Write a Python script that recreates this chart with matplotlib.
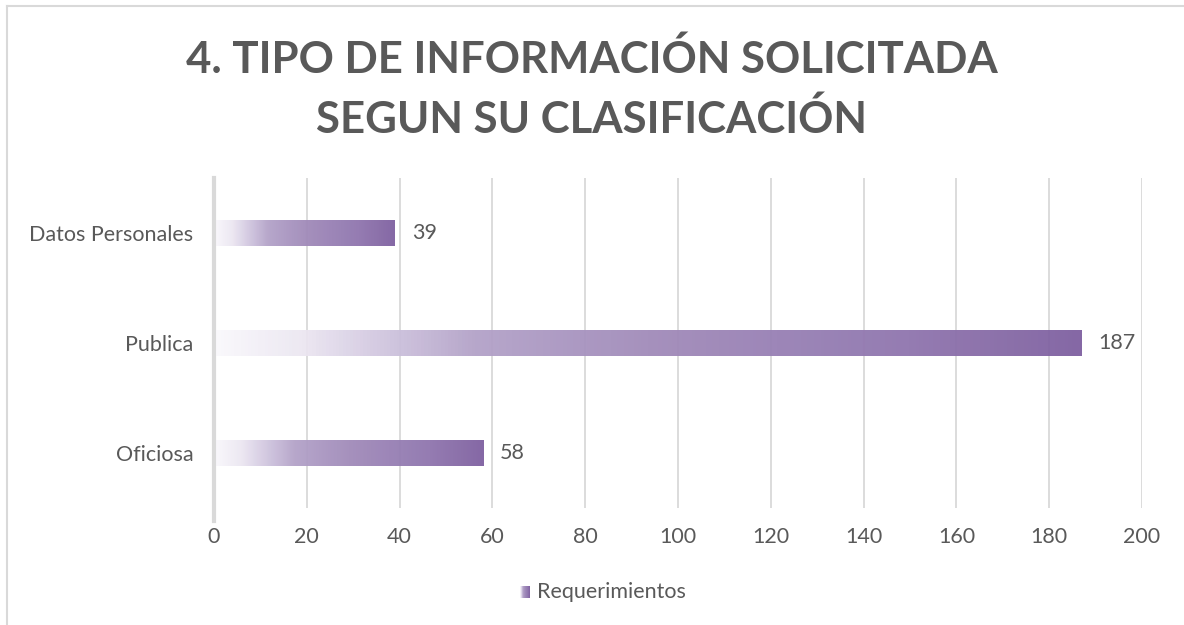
import numpy as np
import matplotlib
matplotlib.use("Agg")
import matplotlib.pyplot as plt
from matplotlib.colors import LinearSegmentedColormap
from matplotlib.lines import Line2D

# data
categories = ["Oficiosa", "Publica", "Datos Personales"]
values = [58, 187, 39]
series_name = "Requerimientos"
title = "4. TIPO DE INFORMACIÓN SOLICITADA\nSEGUN SU CLASIFICACIÓN"
x_ticks = [0, 20, 40, 60, 80, 100, 120, 140, 160, 180, 200]

text_color = "#595959"
grid_color = "#D9D9D9"
font = "Lato"
fs = 15.5

# white -> purple gradient like the Excel fill
grad = LinearSegmentedColormap.from_list("grad", [
    (0.0, "#FAF9FC"), (0.1, "#ECE7F2"), (0.2, "#CFC4DE"), (0.3, "#B3A2C8"),
    (0.5, "#A18BBA"), (0.8, "#8F75AE"), (1.0, "#7F60A0")])
ramp = np.linspace(0, 1, 256).reshape(1, -1)

fig = plt.figure(figsize=(11.84, 6.25), dpi=100)
ax = fig.add_axes([214 / 1184, 1 - 508 / 625, (1142 - 214) / 1184, 330 / 625])

bar_h = 0.236
for i, v in enumerate(values):
    ax.imshow(ramp, cmap=grad, aspect="auto", alpha=0.95,
              extent=[0, v, i - bar_h / 2, i + bar_h / 2], zorder=2)
    ax.text(v + 3.6, i, str(v), va="center", ha="left", fontsize=fs,
            color=text_color, family=font)

ax.set_xlim(0, 200)
ax.set_ylim(-0.5, len(categories) - 0.5)
ax.set_xticks(x_ticks)
ax.set_yticks(range(len(categories)))
ax.set_yticklabels(categories)
ax.grid(axis="x", color=grid_color, linewidth=1.3, zorder=0)
ax.set_axisbelow(True)
for s in ["top", "right", "bottom"]:
    ax.spines[s].set_visible(False)
ax.spines["left"].set_color(grid_color)
ax.spines["left"].set_linewidth(3)
ax.spines["left"].set_bounds(-0.62, 2.5)
ax.tick_params(axis="both", length=0, labelsize=fs, labelcolor=text_color)
ax.tick_params(axis="x", pad=14)
ax.tick_params(axis="y", pad=15)
for lab in ax.get_xticklabels() + ax.get_yticklabels():
    lab.set_family(font)

fig.text(0.5, 1 - 89 / 625, title, ha="center", va="center", fontsize=31.5,
         fontweight="bold", color=text_color, family=font, linespacing=1.55)

# legend: small gradient square + label
lax = fig.add_axes([520 / 1184, 1 - 598 / 625, 10 / 1184, 12 / 625])
lax.imshow(ramp, cmap=grad, aspect="auto", extent=[0, 1, 0, 1])
lax.axis("off")
fig.text(537 / 1184, 1 - 592 / 625, series_name, ha="left", va="center",
         fontsize=fs, color=text_color, family=font)

# chart frame
fig.add_artist(Line2D([7 / 1184, 7 / 1184], [0, 1 - 6 / 625], color=grid_color,
                      linewidth=1.5, transform=fig.transFigure))
fig.add_artist(Line2D([7 / 1184, 1], [1 - 6 / 625, 1 - 6 / 625], color=grid_color,
                      linewidth=1.5, transform=fig.transFigure))

fig.savefig("out.png", dpi=100)
